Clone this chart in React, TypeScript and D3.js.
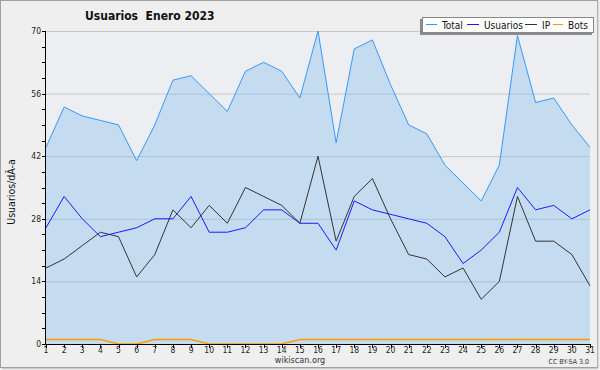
import React from "react";
import * as d3 from "d3";

// data (January 2023, one value per day)
const days = d3.range(1, 32);
const total = [44, 53, 51, 50, 49, 41, 49, 59, 60, 56, 52, 61, 63, 61, 55, 70, 45, 66, 68, 58, 49, 47, 40, 36, 32, 40, 69, 54, 55, 49, 44];
const usuarios = [26, 33, 28, 24, 25, 26, 28, 28, 33, 25, 25, 26, 30, 30, 27, 27, 21, 32, 30, 29, 28, 27, 24, 18, 21, 25, 35, 30, 31, 28, 30];
const ip = [17, 19, 22, 25, 24, 15, 20, 30, 26, 31, 27, 35, 33, 31, 27, 42, 23, 33, 37, 28, 20, 19, 15, 17, 10, 14, 33, 23, 23, 20, 13];
const bots = [1, 1, 1, 1, 0, 0, 1, 1, 1, 0, 0, 0, 0, 0, 1, 1, 1, 1, 1, 1, 1, 1, 1, 1, 1, 1, 1, 1, 1, 1, 1];
const yTicks = [0, 14, 28, 42, 56, 70];

const W = 600;
const H = 370;
const left = 46;
const right = 590;
const top = 31;
const bottom = 344;
const FONT = "'DejaVu Sans Condensed', 'DejaVu Sans', sans-serif";

const legendItems = [
  { label: "Total", color: "#3399ff", x1: 426, x2: 437, tx: 442 },
  { label: "Usuarios", color: "#1a1aff", x1: 467, x2: 479, tx: 484 },
  { label: "IP", color: "#333333", x1: 525, x2: 537, tx: 542 },
  { label: "Bots", color: "#ff9900", x1: 553, x2: 563, tx: 568 },
];

export default function App() {
  const x = d3.scaleLinear().domain([1, 31]).range([left, right]);
  const y = d3.scaleLinear().domain([0, 70]).range([bottom, top]);

  const line = (vals: number[]) =>
    d3.line<number>().x((_, i) => x(days[i])).y((d) => y(d))(vals) as string;
  const area = d3
    .area<number>()
    .x((_, i) => x(days[i]))
    .y0(y(0))
    .y1((d) => y(d))(total) as string;

  const minor = d3.range(0, 70.01, 3.5);

  return (
    <svg
      width={W}
      height={H}
      style={{ position: "absolute", left: 0, top: 0, fontFamily: FONT }}
    >
      <rect x={0} y={0} width={W} height={H} fill="#efefef" />
      <rect x={0.5} y={0.5} width={597} height={367} fill="none" stroke="#a0a0a0" />
      <line x1={598} y1={2} x2={598} y2={368} stroke="#c8c8c8" />
      <line x1={2} y1={368.5} x2={598} y2={368.5} stroke="#c8c8c8" />

      {/* plot background */}
      <rect x={left} y={top} width={right - left} height={bottom - top} fill="#eceef1" />
      {yTicks.map((t) => (
        <line key={"g" + t} x1={left} x2={right} y1={y(t) + 0.5} y2={y(t) + 0.5} stroke="#c8c8c8" />
      ))}
      <path d={area} fill="#c5dcf0" />
      <clipPath id="fillclip">
        <path d={area} />
      </clipPath>
      {yTicks.map((t) => (
        <line
          key={"gi" + t}
          x1={left}
          x2={right}
          y1={y(t) + 0.5}
          y2={y(t) + 0.5}
          stroke="#a9c3dc"
          clipPath="url(#fillclip)"
        />
      ))}

      <path d={line(total)} fill="none" stroke="#3399ff" strokeWidth={1} />
      <path d={line(usuarios)} fill="none" stroke="#1a1aff" strokeWidth={1} />
      <path d={line(ip)} fill="none" stroke="#333333" strokeWidth={1} />
      <path d={line(bots)} fill="none" stroke="#ff9900" strokeWidth={1.5} />

      {/* axes */}
      <line x1={left - 0.5} x2={left - 0.5} y1={top} y2={bottom + 1} stroke="#000" />
      <line x1={left - 0.5} x2={right + 0.5} y1={bottom + 0.5} y2={bottom + 0.5} stroke="#000" />
      {minor.map((t) => (
        <line key={"m" + t} x1={left - 4} x2={left} y1={Math.round(y(t)) + 0.5} y2={Math.round(y(t)) + 0.5} stroke="#000" />
      ))}
      {yTicks.map((t) => (
        <text key={"yl" + t} x={left - 5} y={y(t) + 3} fontSize={8.5} textAnchor="end" fill="#222">
          {t}
        </text>
      ))}
      {days.map((d) => (
        <g key={"x" + d}>
          <line x1={Math.round(x(d)) + 0.5} x2={Math.round(x(d)) + 0.5} y1={bottom} y2={bottom + 4} stroke="#000" />
          <text x={x(d)} y={353} fontSize={8.5} textAnchor="middle" fill="#222">
            {d}
          </text>
        </g>
      ))}

      <text
        transform="translate(15,192) rotate(-90)"
        fontSize={10.5}
        textAnchor="middle"
        fill="#111"
      >
        Usuarios/dÃ-a
      </text>

      <text x={85} y={20} fontSize={12} fontWeight="bold" fill="#111">
        Usuarios{"\u00a0\u00a0"}Enero 2023
      </text>

      {/* legend */}
      <rect x={420} y={19} width={172} height={16} fill="#8a8a8a" />
      <rect x={422.5} y={17.5} width={171} height={15} fill="#ffffff" stroke="#888" />
      {legendItems.map((it) => (
        <g key={it.label}>
          <line x1={it.x1} x2={it.x2} y1={24.5} y2={24.5} stroke={it.color} strokeWidth={1} />
          <text x={it.tx} y={28.5} fontSize={10} fill="#111">
            {it.label}
          </text>
        </g>
      ))}

      <text x={300} y={363} fontSize={9} textAnchor="middle" fill="#333">
        wikiscan.org
      </text>
      <text x={589} y={364} fontSize={7} textAnchor="end" fill="#333">
        CC BY-SA 3.0
      </text>
    </svg>
  );
}
